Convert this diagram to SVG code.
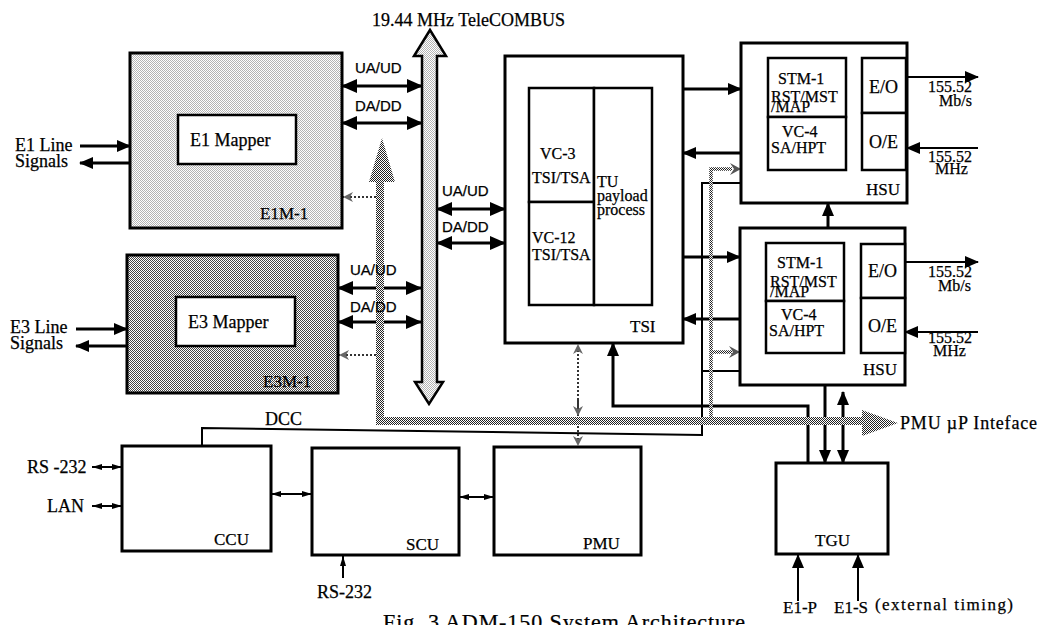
<svg xmlns="http://www.w3.org/2000/svg" width="1040" height="625" viewBox="0 0 1040 625">
<defs>
<pattern id="lt" width="2" height="2" patternUnits="userSpaceOnUse"><rect width="2" height="2" fill="#fff"/><rect width="1" height="1" fill="#b4b4b4"/><rect x="1" y="1" width="1" height="1" fill="#b4b4b4"/></pattern>
<pattern id="dk" width="2" height="2" patternUnits="userSpaceOnUse"><rect width="2" height="2" fill="#fff"/><rect width="1" height="1" fill="#444"/><rect x="1" y="1" width="1" height="1" fill="#444"/></pattern>
<pattern id="st" width="2" height="2" patternUnits="userSpaceOnUse"><rect width="2" height="2" fill="#fff"/><rect width="1" height="1" fill="#222"/><rect x="1" y="1" width="1" height="1" fill="#222"/></pattern>
<marker id="a" viewBox="0 0 14 12" refX="13" refY="6" markerWidth="14" markerHeight="12" markerUnits="userSpaceOnUse" orient="auto-start-reverse"><path d="M0,0 L14,6 L0,12 z" fill="#000"/></marker>
<marker id="b" viewBox="0 0 16 14" refX="15" refY="7" markerWidth="16" markerHeight="14" markerUnits="userSpaceOnUse" orient="auto-start-reverse"><path d="M0,0 L16,7 L0,14 z" fill="#000"/></marker>
<marker id="s" viewBox="0 0 10 6" refX="10" refY="3" markerWidth="10" markerHeight="6" markerUnits="userSpaceOnUse" orient="auto-start-reverse"><path d="M0,0 L10,3 L0,6 z" fill="#000"/></marker>
<marker id="d" viewBox="0 0 10 10" refX="10" refY="5" markerWidth="10" markerHeight="10" markerUnits="userSpaceOnUse" orient="auto-start-reverse"><path d="M0,0 L10,5 L0,10 L3,5 z" fill="#666"/></marker>
</defs>
<style>
.bx{fill:#fff;stroke:#000;stroke-width:3}
.in{fill:#fff;stroke:#000;stroke-width:2.5}
.ln{fill:none;stroke:#000;stroke-width:3}
.tn{fill:none;stroke:#000;stroke-width:2}
.sp{fill:none;stroke:url(#st);stroke-width:8}
.sw{fill:none;stroke:url(#st);stroke-width:3.5}
.dt{fill:none;stroke:#333;stroke-width:2;stroke-dasharray:2 2}
text{font-family:"Liberation Serif","Times New Roman",serif;font-size:17px;fill:#000;stroke:#000;stroke-width:0.25}
.sa{font-family:"Liberation Sans",Arial,sans-serif;font-size:15px}
.m{font-size:18px}
.n{font-size:16px}
</style>

<g id="connectors">
<line class="ln" x1="80" y1="146" x2="130" y2="146" marker-end="url(#a)"/>
<line class="ln" x1="130" y1="163" x2="80" y2="163" marker-end="url(#a)"/>
<line class="ln" x1="76" y1="329" x2="127" y2="329" marker-end="url(#a)"/>
<line class="ln" x1="127" y1="346" x2="76" y2="346" marker-end="url(#a)"/>
<line class="ln" x1="342" y1="86" x2="422" y2="86" marker-start="url(#b)" marker-end="url(#b)"/>
<line class="ln" x1="342" y1="123" x2="422" y2="123" marker-start="url(#b)" marker-end="url(#b)"/>
<line class="ln" x1="437" y1="209" x2="505" y2="209" marker-start="url(#b)" marker-end="url(#b)"/>
<line class="ln" x1="437" y1="243" x2="505" y2="243" marker-start="url(#b)" marker-end="url(#b)"/>
<line class="ln" x1="338" y1="288" x2="421" y2="288" marker-start="url(#b)" marker-end="url(#b)"/>
<line class="ln" x1="338" y1="322" x2="421" y2="322" marker-start="url(#b)" marker-end="url(#b)"/>
<line class="ln" x1="683" y1="89" x2="741" y2="89" marker-end="url(#a)"/>
<line class="ln" x1="741" y1="153" x2="683" y2="153" marker-end="url(#a)"/>
<line class="ln" x1="683" y1="257" x2="740" y2="257" marker-end="url(#a)"/>
<line class="ln" x1="740" y1="319" x2="683" y2="319" marker-end="url(#a)"/>
<line class="ln" x1="828" y1="228" x2="828" y2="203" marker-end="url(#a)"/>
<line class="tn" x1="907" y1="77" x2="978" y2="77" marker-end="url(#a)"/>
<line class="tn" x1="978" y1="148" x2="907" y2="148" marker-end="url(#a)"/>
<line class="tn" x1="905" y1="262" x2="978" y2="262" marker-end="url(#a)"/>
<line class="tn" x1="978" y1="332" x2="905" y2="332" marker-end="url(#a)"/>
<polyline class="tn" points="202,447 202,428 702,435 702,183 741,183"/>
<line class="tn" x1="702" y1="371" x2="740" y2="371"/>
<polyline class="ln" points="808,463 808,406 613,406 613,343" marker-end="url(#a)"/>
<line class="ln" x1="825" y1="385" x2="825" y2="463" marker-end="url(#a)"/>
<line class="ln" x1="843" y1="392" x2="843" y2="463" marker-start="url(#a)" marker-end="url(#a)"/>
<line class="tn" x1="798" y1="601" x2="798" y2="555" marker-end="url(#a)"/>
<line class="tn" x1="858" y1="601" x2="858" y2="555" marker-end="url(#a)"/>
<line class="tn" x1="92" y1="467" x2="122" y2="467" marker-start="url(#s)" marker-end="url(#s)"/>
<line class="tn" x1="92" y1="506" x2="122" y2="506" marker-start="url(#s)" marker-end="url(#s)"/>
<line class="tn" x1="271" y1="494" x2="312" y2="494" marker-start="url(#s)" marker-end="url(#s)"/>
<line class="tn" x1="459" y1="497" x2="494" y2="497" marker-start="url(#s)" marker-end="url(#s)"/>
<line class="tn" x1="343" y1="556" x2="343" y2="578" marker-start="url(#s)"/>
<polyline class="sp" points="380,178 380,421 864,421"/>
<polygon points="382,138 395,182 369,182" fill="url(#st)"/>
<polygon points="862,410 898,423 862,436" fill="url(#st)"/>
<polyline class="sw" points="711,421 711,169 732,169"/>
<polygon points="730,163 741,169 730,175 734,169" fill="#555"/>
<line class="sw" x1="711" y1="352" x2="732" y2="352"/>
<polygon points="729,346 740,352 729,358 733,352" fill="#555"/>
<line class="dt" x1="376" y1="197" x2="343" y2="197" marker-end="url(#d)"/>
<line class="dt" x1="376" y1="355" x2="339" y2="355" marker-end="url(#d)"/>
<line class="dt" x1="578" y1="416" x2="578" y2="344" marker-end="url(#d)"/>
<line class="dt" x1="578" y1="400" x2="578" y2="416" marker-end="url(#d)"/>
<line class="dt" x1="578" y1="426" x2="578" y2="446" marker-end="url(#d)"/>
</g>

<g id="bus">
<polygon points="430,30 446,56 437,56 437,382 443,382 429,404 415,382 422,382 422,56 414,56" fill="url(#lt)" stroke="#000" stroke-width="2.5"/>
<text x="372" y="26" class="m">19.44 MHz TeleCOMBUS</text>
<text x="355" y="73" class="sa">UA/UD</text>
<text x="355" y="111" class="sa">DA/DD</text>
<text x="442" y="196" class="sa">UA/UD</text>
<text x="442" y="232" class="sa">DA/DD</text>
<text x="350" y="275" class="sa">UA/UD</text>
<text x="350" y="312" class="sa">DA/DD</text>
</g>

<g id="e1m">
<rect x="130" y="53" width="212" height="175" fill="url(#lt)" stroke="#000" stroke-width="3"/>
<rect class="in" x="178" y="115" width="118" height="49"/>
<text x="190" y="146" class="m">E1 Mapper</text>
<text x="260" y="219">E1M-1</text>
<text x="15" y="151" class="m">E1 Line</text>
<text x="15" y="167" class="m">Signals</text>
</g>

<g id="e3m">
<rect x="127" y="255" width="211" height="138" fill="url(#dk)" stroke="#000" stroke-width="3"/>
<rect class="in" x="176" y="297" width="119" height="49"/>
<text x="188" y="328" class="m">E3 Mapper</text>
<text x="263" y="387">E3M-1</text>
<text x="10" y="333" class="m">E3 Line</text>
<text x="10" y="349" class="m">Signals</text>
</g>

<g id="tsi">
<rect class="bx" x="505" y="56" width="178" height="287"/>
<rect class="in" x="529" y="88" width="65" height="114"/>
<rect class="in" x="529" y="202" width="65" height="103"/>
<rect class="in" x="594" y="88" width="58" height="217"/>
<text x="540" y="159" class="n">VC-3</text>
<text x="532" y="183" class="n">TSI/TSA</text>
<text x="532" y="243" class="n">VC-12</text>
<text x="532" y="260" class="n">TSI/TSA</text>
<text x="597" y="187" class="n">TU</text>
<text x="597" y="201" class="n">payload</text>
<text x="597" y="215" class="n">process</text>
<text x="630" y="332">TSI</text>
</g>

<g id="hsu1">
<rect class="bx" x="741" y="43" width="166" height="160"/>
<rect class="in" x="768" y="58" width="78" height="59"/>
<rect class="in" x="768" y="117" width="78" height="53"/>
<rect class="in" x="862" y="58" width="44" height="55"/>
<rect class="in" x="862" y="113" width="44" height="57"/>
<text x="778" y="84" class="n">STM-1</text>
<text x="771" y="102" class="n">RST/MST</text>
<text x="771" y="112" class="n">/MAP</text>
<text x="782" y="137" class="n">VC-4</text>
<text x="771" y="153" class="n">SA/HPT</text>
<text x="869" y="93" class="m">E/O</text>
<text x="869" y="148" class="m">O/E</text>
<text x="866" y="195">HSU</text>
<text x="928" y="92" class="n">155.52</text>
<text x="939" y="106" class="n">Mb/s</text>
<text x="928" y="162" class="n">155.52</text>
<text x="935" y="174" class="n">MHz</text>
</g>

<g id="hsu2">
<rect class="bx" x="740" y="228" width="165" height="157"/>
<rect class="in" x="766" y="243" width="78" height="58"/>
<rect class="in" x="766" y="301" width="78" height="52"/>
<rect class="in" x="861" y="244" width="44" height="54"/>
<rect class="in" x="861" y="298" width="44" height="55"/>
<text x="777" y="268" class="n">STM-1</text>
<text x="770" y="287" class="n">RST/MST</text>
<text x="770" y="297" class="n">/MAP</text>
<text x="781" y="320" class="n">VC-4</text>
<text x="769" y="336" class="n">SA/HPT</text>
<text x="868" y="277" class="m">E/O</text>
<text x="868" y="332" class="m">O/E</text>
<text x="863" y="375">HSU</text>
<text x="928" y="277" class="n">155.52</text>
<text x="938" y="291" class="n">Mb/s</text>
<text x="928" y="343" class="n">155.52</text>
<text x="933" y="356" class="n">MHz</text>
</g>

<g id="ccu">
<rect class="bx" x="122" y="446" width="149" height="105"/>
<text x="214" y="545">CCU</text>
<text x="265" y="425" class="m">DCC</text>
<text x="27" y="473" class="m">RS -232</text>
<text x="47" y="512" class="m">LAN</text>
</g>

<g id="scu">
<rect class="bx" x="312" y="448" width="147" height="107"/>
<text x="406" y="550">SCU</text>
<text x="317" y="598" class="m">RS-232</text>
</g>

<g id="pmu">
<rect class="bx" x="494" y="447" width="147" height="108"/>
<text x="583" y="549">PMU</text>
<text x="900" y="429" class="m" textLength="137">PMU µP Inteface</text>
</g>

<g id="tgu">
<rect class="bx" x="776" y="463" width="112" height="91"/>
<text x="815" y="546">TGU</text>
<text x="783" y="613">E1-P</text>
<text x="834" y="613">E1-S</text>
<text x="875" y="610" textLength="138">(external timing)</text>
</g>

<text x="383" y="629" style="font-size:22px" textLength="362">Fig. 3 ADM-150 System Architecture</text>
</svg>
